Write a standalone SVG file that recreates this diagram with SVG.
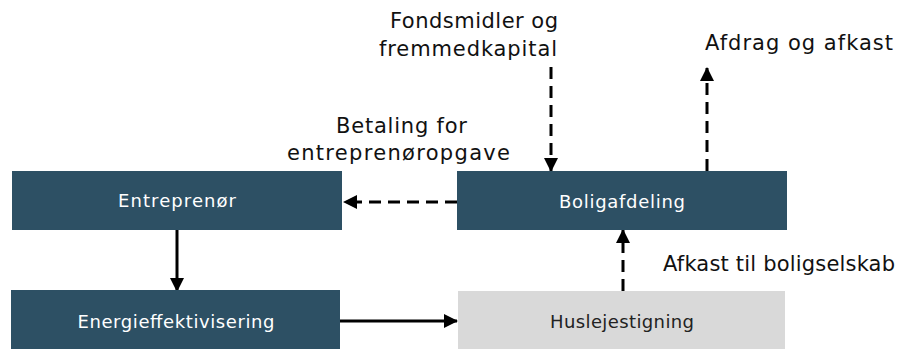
<svg xmlns="http://www.w3.org/2000/svg" width="897" height="349" viewBox="0 0 897 349">
<style>
.box{fill:#2D5064;}
.grey{fill:#D9D9D9;}
.lbl{font-family:"DejaVu Sans",sans-serif;font-size:18px;fill:#FFFFFF;text-anchor:middle;}
.dk{fill:#222222;}
.note{font-family:"DejaVu Sans",sans-serif;font-size:21px;fill:#111111;}
.ln{stroke:#000;stroke-width:3;fill:none;}
.dash{stroke-dasharray:12 7;}
</style>
<defs>
<marker id="ah" markerUnits="userSpaceOnUse" markerWidth="14" markerHeight="14" viewBox="0 0 14 14" refX="13" refY="7" orient="auto">
<path d="M0,0 L14,7 L0,14 Z" fill="#000"/>
</marker>
</defs>
<g id="connectors">
<line class="ln" x1="177" y1="230" x2="177" y2="291" marker-end="url(#ah)"/>
<line class="ln" x1="340" y1="321" x2="457" y2="321" marker-end="url(#ah)"/>
<line class="ln dash" x1="457" y1="202" x2="344" y2="202" marker-end="url(#ah)"/>
<line class="ln dash" x1="551" y1="67" x2="551" y2="171" marker-end="url(#ah)"/>
<line class="ln dash" x1="707" y1="171" x2="707" y2="68" marker-end="url(#ah)"/>
<line class="ln dash" x1="623" y1="291" x2="623" y2="230" marker-end="url(#ah)"/>
</g>
<g id="entreprenor">
<rect class="box" x="12" y="171" width="330" height="59"/>
<text class="lbl" x="177" y="207" textLength="118" lengthAdjust="spacing">Entreprenør</text>
</g>
<g id="energieffektivisering">
<rect class="box" x="11" y="290" width="329" height="59"/>
<text class="lbl" x="176" y="328" textLength="197" lengthAdjust="spacing">Energieffektivisering</text>
</g>
<g id="boligafdeling">
<rect class="box" x="457" y="171" width="330" height="59"/>
<text class="lbl" x="622" y="208" textLength="126" lengthAdjust="spacing">Boligafdeling</text>
</g>
<g id="huslejestigning">
<rect class="grey" x="458" y="291" width="327" height="58"/>
<text class="lbl dk" x="622" y="328" textLength="144" lengthAdjust="spacing">Huslejestigning</text>
</g>
<g id="labels">
<text class="note" x="390" y="28" textLength="168" lengthAdjust="spacing">Fondsmidler og</text>
<text class="note" x="379" y="56" textLength="178" lengthAdjust="spacing">fremmedkapital</text>
<text class="note" x="705" y="50" textLength="188" lengthAdjust="spacing">Afdrag og afkast</text>
<text class="note" x="336" y="133" textLength="131" lengthAdjust="spacing">Betaling for</text>
<text class="note" x="287" y="160" textLength="223" lengthAdjust="spacing">entreprenøropgave</text>
<text class="note" x="663" y="271" textLength="232" lengthAdjust="spacing">Afkast til boligselskab</text>
</g>
</svg>
